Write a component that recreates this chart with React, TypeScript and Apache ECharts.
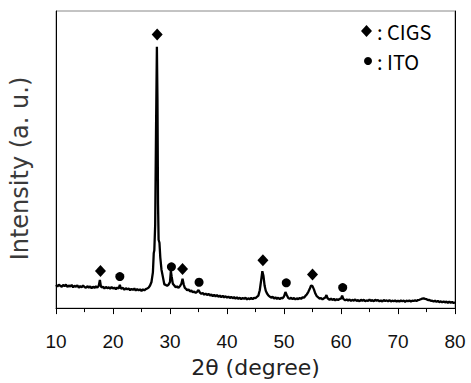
import React, { useEffect, useRef } from "react";
import * as echarts from "echarts";

// XRD pattern: [2θ (degree), intensity (a.u., 0-100 scale)]
const pattern: [number, number][] = [
  [10.0, 7.8], [10.25, 7.3], [10.5, 7.9], [10.75, 7.5], [11.0, 7.2], [11.25, 7.8],
  [11.5, 7.4], [11.75, 7.9], [12.0, 7.1], [12.25, 7.6], [12.5, 7.3], [12.75, 7.8],
  [13.0, 7.0], [13.25, 7.5], [13.5, 7.2], [13.75, 7.7], [14.0, 6.9], [14.25, 7.4],
  [14.5, 7.0], [14.75, 7.6], [15.0, 7.1], [15.25, 6.8], [15.5, 7.4], [15.75, 6.9],
  [16.0, 7.3], [16.25, 6.7], [16.5, 7.2], [16.75, 6.8], [17.0, 7.3], [17.25, 6.9],
  [17.5, 7.5], [17.7, 9.5], [17.85, 7.6], [18.0, 6.9], [18.25, 7.2], [18.5, 6.6],
  [18.75, 7.1], [19.0, 6.7], [19.25, 7.0], [19.5, 6.5], [19.75, 7.1], [20.0, 6.6],
  [20.25, 6.9], [20.5, 6.4], [20.75, 6.9], [21.0, 6.6], [21.2, 7.8], [21.4, 6.5],
  [21.75, 6.8], [22.0, 6.2], [22.25, 6.7], [22.5, 6.3], [22.75, 6.6], [23.0, 6.0],
  [23.25, 6.5], [23.5, 6.1], [23.75, 6.6], [24.0, 5.9], [24.25, 6.4], [24.5, 6.0],
  [24.75, 6.3], [25.0, 5.8], [25.25, 6.3], [25.5, 6.0], [25.75, 6.4], [26.0, 6.6],
  [26.25, 6.9], [26.5, 7.6], [26.75, 8.8], [27.0, 12.0], [27.15, 18.5], [27.25, 19.5],
  [27.4, 28], [27.55, 60], [27.7, 88], [27.8, 70], [27.9, 35], [28.0, 23],
  [28.15, 22], [28.3, 17], [28.5, 13], [28.75, 10.5], [29.0, 8.0], [29.25, 7.8],
  [29.5, 7.5], [29.75, 7.9], [30.0, 8.8], [30.15, 12.5], [30.3, 10.5], [30.5, 8.2],
  [30.75, 7.6], [31.0, 7.0], [31.25, 7.3], [31.5, 6.8], [31.75, 7.4], [32.0, 8.2],
  [32.2, 9.9], [32.4, 8.0], [32.6, 6.8], [32.85, 6.4], [33.0, 6.0], [33.25, 6.3],
  [33.5, 5.6], [33.75, 5.9], [34.0, 5.3], [34.25, 5.6], [34.5, 5.1], [34.75, 5.5],
  [35.0, 6.1], [35.25, 5.2], [35.5, 4.8], [35.75, 5.1], [36.0, 4.5], [36.25, 4.9],
  [36.5, 4.4], [36.75, 4.8], [37.0, 4.2], [37.25, 4.6], [37.5, 4.0], [37.75, 4.5],
  [38.0, 3.9], [38.25, 4.4], [38.5, 3.8], [38.75, 4.2], [39.0, 3.7], [39.25, 4.1],
  [39.5, 3.6], [39.75, 4.0], [40.0, 3.5], [40.25, 3.9], [40.5, 3.4], [40.75, 3.8],
  [41.0, 3.3], [41.25, 3.7], [41.5, 3.2], [41.75, 3.6], [42.0, 3.1], [42.25, 3.5],
  [42.5, 3.0], [42.75, 3.4], [43.0, 3.1], [43.25, 3.5], [43.5, 2.9], [43.75, 3.3],
  [44.0, 3.0], [44.25, 3.4], [44.5, 3.0], [44.75, 3.5], [45.0, 3.3], [45.25, 3.8],
  [45.5, 4.2], [45.75, 6.0], [46.0, 9.5], [46.2, 12.4], [46.4, 10.8], [46.6, 7.5],
  [46.8, 5.8], [47.0, 5.0], [47.25, 4.3], [47.5, 3.9], [47.75, 3.5], [48.0, 3.8],
  [48.25, 3.2], [48.5, 3.6], [48.75, 3.1], [49.0, 3.5], [49.25, 3.0], [49.5, 3.4],
  [49.75, 3.3], [50.0, 3.9], [50.25, 5.4], [50.5, 4.3], [50.75, 3.4], [51.0, 3.1],
  [51.25, 3.5], [51.5, 3.0], [51.75, 3.4], [52.0, 2.9], [52.25, 3.3], [52.5, 3.0],
  [52.75, 3.4], [53.0, 3.1], [53.25, 3.6], [53.5, 3.5], [53.75, 4.1], [54.0, 4.6],
  [54.25, 5.4], [54.5, 6.4], [54.75, 7.6], [55.0, 7.4], [55.25, 6.3], [55.5, 4.9],
  [55.75, 4.0], [56.0, 3.6], [56.25, 3.2], [56.5, 3.4], [56.75, 2.9], [57.0, 3.3],
  [57.25, 3.6], [57.45, 4.4], [57.65, 3.3], [58.0, 2.8], [58.25, 3.2], [58.5, 2.7],
  [58.75, 3.1], [59.0, 2.6], [59.25, 3.0], [59.5, 2.7], [59.75, 3.1], [60.0, 3.2],
  [60.2, 4.2], [60.4, 3.1], [60.75, 2.6], [61.0, 2.9], [61.25, 2.5], [61.5, 2.9],
  [61.75, 2.4], [62.0, 2.8], [62.25, 2.5], [62.5, 2.9], [62.75, 2.4], [63.0, 2.7],
  [63.25, 2.3], [63.5, 2.8], [63.75, 2.5], [64.0, 2.8], [64.25, 2.3], [64.5, 2.6],
  [64.75, 2.4], [65.0, 2.9], [65.25, 2.4], [65.5, 2.7], [65.75, 2.3], [66.0, 2.8],
  [66.25, 2.5], [66.5, 2.7], [66.75, 2.3], [67.0, 2.6], [67.25, 2.2], [67.5, 2.7],
  [67.75, 2.4], [68.0, 2.6], [68.25, 2.3], [68.5, 2.7], [68.75, 2.2], [69.0, 2.5],
  [69.25, 2.3], [69.5, 2.6], [69.75, 2.2], [70.0, 2.5], [70.25, 2.2], [70.5, 2.6],
  [70.75, 2.3], [71.0, 2.5], [71.25, 2.1], [71.5, 2.5], [71.75, 2.3], [72.0, 2.6],
  [72.25, 2.2], [72.5, 2.5], [72.75, 2.4], [73.0, 2.6], [73.25, 2.4], [73.5, 2.7],
  [73.75, 2.8], [74.0, 3.0], [74.25, 3.2], [74.5, 3.3], [74.75, 3.1], [75.0, 3.0],
  [75.25, 2.7], [75.5, 2.8], [75.75, 2.4], [76.0, 2.5], [76.25, 2.2], [76.5, 2.5],
  [76.75, 2.1], [77.0, 2.4], [77.25, 2.0], [77.5, 2.3], [77.75, 1.9], [78.0, 2.3],
  [78.25, 1.9], [78.5, 2.2], [78.75, 1.8], [79.0, 2.2], [79.25, 1.8], [79.5, 2.1],
  [79.75, 1.7], [80.0, 2.0],
];

// Peak markers
const cigsMarks: [number, number][] = [
  [17.8, 12.5], [27.75, 92.1], [32.2, 13.2], [46.3, 16.1], [55.0, 11.3],
];
const itoMarks: [number, number][] = [
  [21.2, 10.6], [30.25, 13.9], [35.1, 8.7], [50.4, 8.5], [60.3, 6.9],
];

const xTicks = [10, 20, 30, 40, 50, 60, 70, 80];
const cigsName = ": CIGS";
const itoName = ": ITO";

export default function App() {
  const ref = useRef<HTMLDivElement>(null);
  useEffect(() => {
    if (!ref.current) return;
    const chart = echarts.init(ref.current, null, { renderer: "svg" });
    const font = "Liberation Sans, Arial, sans-serif";
    const wide = "DejaVu Sans, sans-serif";
    const legendText = { fontSize: 20, color: "#000", fontFamily: "Noto Sans CJK KR", lineHeight: 20 };
    chart.setOption({
      animation: false,
      backgroundColor: "#fff",
      grid: {
        left: 55,
        right: 16,
        top: 11,
        bottom: 68,
        show: true,
        borderColor: "#888",
        borderWidth: 1,
      },
      legend: [
        {
          orient: "vertical",
          left: 361,
          top: 21,
          padding: 0,
          itemWidth: 11,
          itemHeight: 12,
          textStyle: legendText,
          data: [{ name: cigsName, icon: "diamond", itemStyle: { color: "#000", opacity: 1 } }],
        },
        {
          orient: "vertical",
          left: 364,
          top: 51,
          padding: 0,
          itemWidth: 8,
          itemHeight: 8,
          itemGap: 0,
          textStyle: legendText,
          data: [{ name: itoName, icon: "circle", itemStyle: { color: "#000", opacity: 1 } }],
        },
      ],
      xAxis: {
        type: "value",
        min: xTicks[0],
        max: xTicks[xTicks.length - 1],
        interval: 10,
        name: "2θ (degree)",
        nameLocation: "middle",
        nameGap: 47,
        nameTextStyle: { fontSize: 22, color: "#222", fontFamily: wide },
        axisLine: { show: true, lineStyle: { color: "#000", width: 1 } },
        axisTick: { show: true, inside: false, length: 6, lineStyle: { color: "#000" } },
        minorTick: { show: true, splitNumber: 2, length: 4, lineStyle: { color: "#000" } },
        axisLabel: { fontSize: 19, color: "#111", fontFamily: font, margin: 24 },
        splitLine: { show: false },
      },
      yAxis: [
        {
          type: "value",
          min: 0,
          max: 100,
          name: "Intensity (a. u.)",
          nameLocation: "middle",
          nameGap: 24,
          nameTextStyle: {
            fontSize: 24,
            color: "#3a3a3a",
            fontFamily: wide,
            padding: [0, 18, 0, 0],
          },
          axisLine: { show: true, lineStyle: { color: "#000", width: 1 } },
          axisTick: { show: false },
          axisLabel: { show: false },
          splitLine: { show: false },
        },
        {
          type: "value",
          min: 0,
          max: 100,
          position: "right",
          axisLine: { show: true, lineStyle: { color: "#000", width: 1 } },
          axisTick: { show: false },
          axisLabel: { show: false },
          splitLine: { show: false },
        },
      ],
      series: [
        {
          type: "line",
          data: pattern,
          showSymbol: false,
          symbol: "none",
          lineStyle: { color: "#000", width: 2.3 },
          z: 2,
        },
        {
          name: cigsName,
          type: "scatter",
          data: cigsMarks,
          symbol: "diamond",
          symbolSize: [11, 12],
          itemStyle: { color: "#000", opacity: 1 },
          z: 3,
        },
        {
          name: itoName,
          type: "scatter",
          data: itoMarks,
          symbol: "circle",
          symbolSize: 9,
          itemStyle: { color: "#000", opacity: 1 },
          z: 3,
        },
      ],
    });
    return () => chart.dispose();
  }, []);
  return (
    <div
      ref={ref}
      style={{ position: "absolute", left: 0, top: 0, width: 471, height: 383 }}
    />
  );
}
